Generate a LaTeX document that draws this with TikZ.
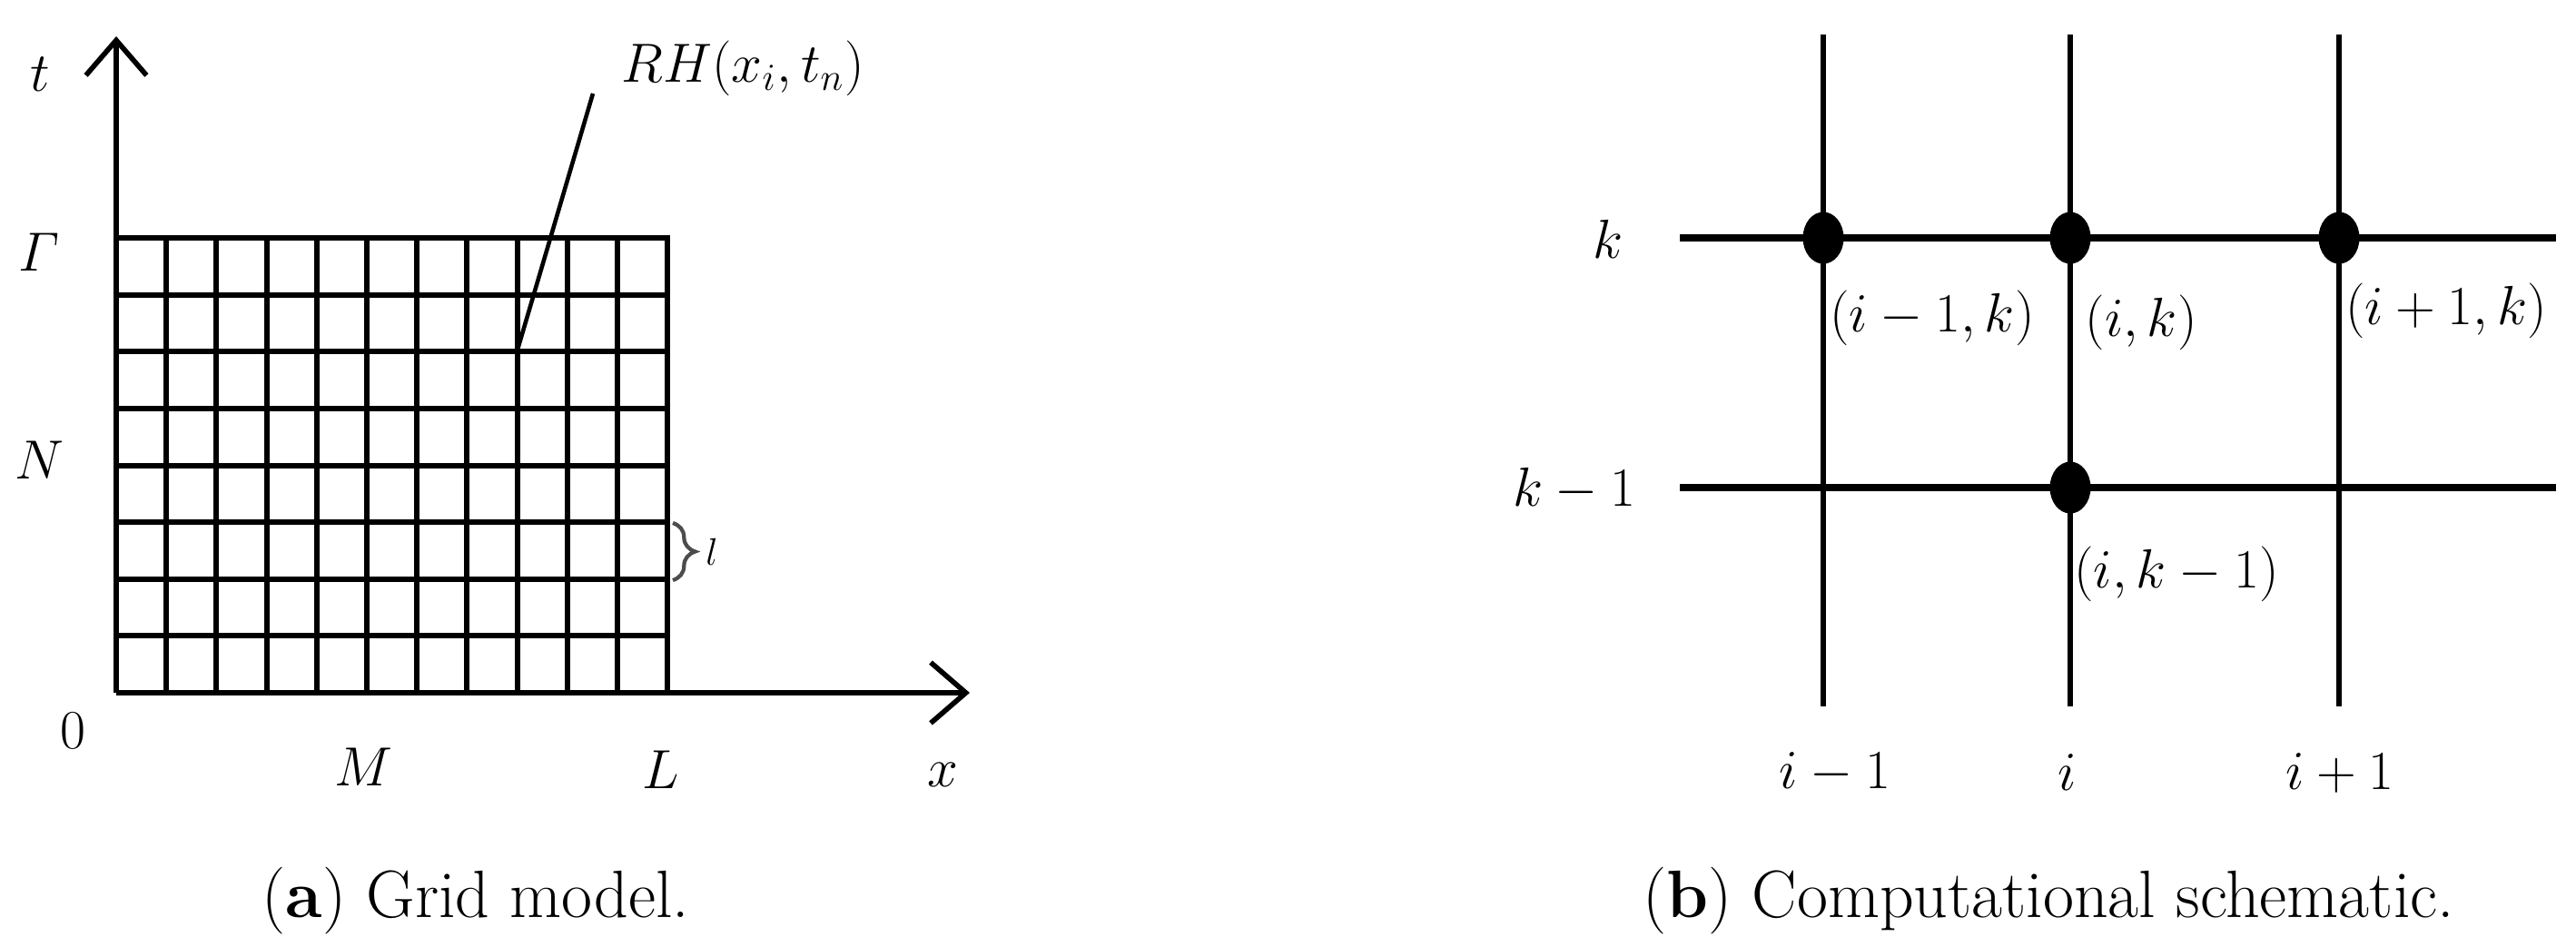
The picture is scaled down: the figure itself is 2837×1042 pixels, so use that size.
\documentclass[tikz,border=0pt]{standalone}
\usepackage{amsmath}
\usetikzlibrary{arrows.meta,shapes.geometric,decorations.pathreplacing}
\begin{document}
\begin{tikzpicture}[x=0.01cm,y=-0.01cm,
  every node/.style={inner sep=0pt},
  leftlab/.style={font=\fontsize{18}{21}\selectfont},
  rightlab/.style={font=\fontsize{16}{19}\selectfont},
  caplab/.style={font=\fontsize{21}{25}\selectfont},
  axisline/.style={line width=1.6pt,-{Straight Barb[length=11pt,width=19pt]}},
  meshline/.style={line width=1.7pt,line cap=rect},
  vline/.style={line width=1.45pt},
  hline/.style={line width=2pt},
  leader/.style={line width=1.3pt},
  dot/.style={ellipse,fill=black,minimum width=0.45cm,minimum height=0.57cm},
  bracestyle/.style={decorate,decoration={brace,amplitude=7pt},line width=1.2pt,draw=black!70}
]
\useasboundingbox (0,0) rectangle (2837,1042);

% ---------- (a) grid model ----------
\foreach \j in {1,...,11} \draw[meshline] ({128+\j*55.2},262) -- ({128+\j*55.2},763);
\foreach \r in {0,...,7} \draw[meshline] (128,{262+\r*62.625}) -- (735.2,{262+\r*62.625});

\coordinate (O) at (128,763);
\coordinate (tTip) at (128,40);
\coordinate (xTip) at (1068,763);
\draw[axisline] (O) -- (tTip);
\draw[axisline] (O) -- (xTip);

\node[leftlab] (tlab) at (44,82) {$t$};
\node[leftlab] (Gamlab) at (43,278) {$\varGamma$};
\node[leftlab] (Nlab) at (43,507) {$N$};
\node[leftlab] (zerolab) at (80,805) {$0$};
\node[leftlab] (Mlab) at (400,845) {$M$};
\node[leftlab] (Llab) at (728,848) {$L$};
\node[leftlab] (xlab) at (1038,853) {$x$};

\node[font=\fontsize{17.5}{20}\selectfont,anchor=base] (RH) at (818,90) {$RH(x_i,t_n)$};
\coordinate (pin) at (570,385);
\coordinate (RHfoot) at (653,103);
\draw[leader] (pin) -- (RHfoot);

\coordinate (bA) at (741,576);
\coordinate (bB) at (741,639);
\draw[bracestyle] (bA) -- (bB);
\node[font=\fontsize{12}{14}\selectfont] (llab) at (784,608) {$l$};

% ---------- (b) computational schematic ----------
\foreach \n/\x in {a/2008,b/2280,c/2576}{
  \coordinate (v\n top) at (\x,38);
  \coordinate (v\n bot) at (\x,778);
  \draw[vline] (v\n top) -- (v\n bot);
}
\coordinate (hkL) at (1850,262);
\coordinate (hkR) at (2815,262);
\coordinate (hkmL) at (1850,537);
\coordinate (hkmR) at (2815,537);
\draw[hline] (hkL) -- (hkR);
\draw[hline] (hkmL) -- (hkmR);

\node[dot] (Pim1k) at (2008,262) {};
\node[dot] (Pik) at (2280,262) {};
\node[dot] (Pip1k) at (2576,262) {};
\node[dot] (Pikm1) at (2280,537) {};

\node[rightlab] (klab) at (1771,263) {$k$};
\node[rightlab] (km1lab) at (1734,539) {$k-1$};
\node[rightlab] (Lim1k) at (2128,350) {$(i-1,k)$};
\node[rightlab] (Lik) at (2358,355) {$(i,k)$};
\node[rightlab] (Lip1k) at (2694,342) {$(i+1,k)$};
\node[rightlab] (Likm1) at (2397,632) {$(i,k-1)$};
\node[rightlab] (im1lab) at (2021,851) {$i-1$};
\node[rightlab] (ilab) at (2277,851) {$i$};
\node[rightlab] (ip1lab) at (2577,851) {$i+1$};

% ---------- captions ----------
\node[caplab,anchor=base] (capa) at (524,1010) {(\textbf{a}) Grid model.};
\node[caplab,anchor=base] (capb) at (2256,1010) {(\textbf{b}) Computational schematic.};
\end{tikzpicture}
\end{document}
